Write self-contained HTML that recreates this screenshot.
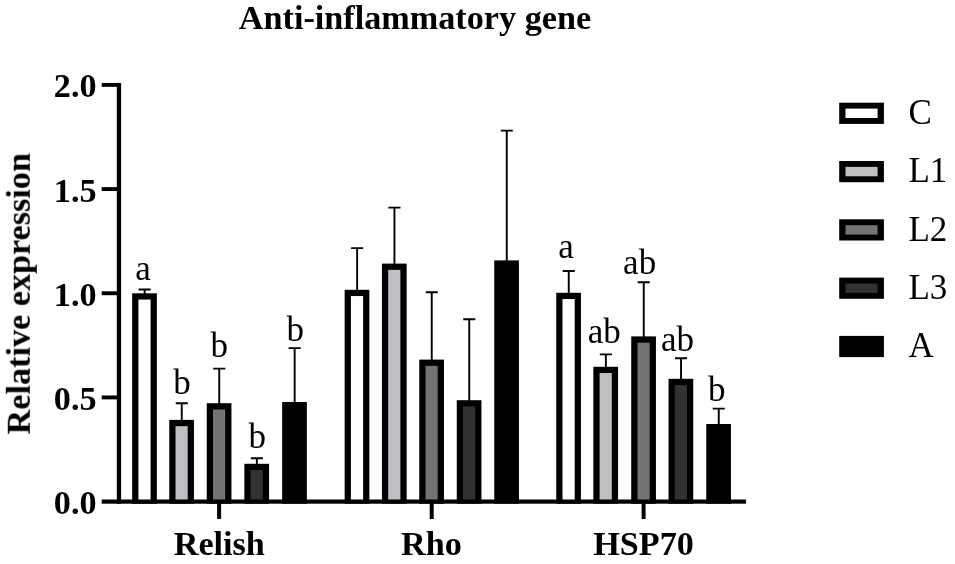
<!DOCTYPE html>
<html lang="en"><head><meta charset="utf-8"><title>Anti-inflammatory gene</title>
<style>
html,body{margin:0;padding:0;background:#fff;}
body{width:955px;height:564px;overflow:hidden;}
svg{display:block;}
text{font-family:"Liberation Serif","Times New Roman",serif;fill:#000;}
.b{font-weight:bold;font-size:34.2px;}
.r{font-size:35px;}
</style></head><body>
<svg width="955" height="564" viewBox="0 0 955 564">
<defs><filter id="soft" x="0" y="0" width="955" height="564" filterUnits="userSpaceOnUse"><feGaussianBlur stdDeviation="0.45"/></filter></defs>
<rect width="955" height="564" fill="#fff"/>
<g filter="url(#soft)">
<path d="M144.65 296.30V289.50M138.60 289.50H150.70" stroke="#000" stroke-width="1.9" fill="none"/>
<path d="M181.75 422.90V403.20M175.70 403.20H187.80" stroke="#000" stroke-width="1.9" fill="none"/>
<path d="M219.25 406.20V368.60M213.20 368.60H225.30" stroke="#000" stroke-width="1.9" fill="none"/>
<path d="M256.85 466.80V458.20M250.80 458.20H262.90" stroke="#000" stroke-width="1.9" fill="none"/>
<path d="M294.65 405.00V348.10M288.60 348.10H300.70" stroke="#000" stroke-width="1.9" fill="none"/>
<path d="M357.15 292.80V248.10M351.10 248.10H363.20" stroke="#000" stroke-width="1.9" fill="none"/>
<path d="M394.45 266.60V207.60M388.40 207.60H400.50" stroke="#000" stroke-width="1.9" fill="none"/>
<path d="M431.75 362.60V292.20M425.70 292.20H437.80" stroke="#000" stroke-width="1.9" fill="none"/>
<path d="M469.25 403.20V319.20M463.20 319.20H475.30" stroke="#000" stroke-width="1.9" fill="none"/>
<path d="M506.75 263.40V130.60M500.70 130.60H512.80" stroke="#000" stroke-width="1.9" fill="none"/>
<path d="M568.75 295.80V271.00M562.70 271.00H574.80" stroke="#000" stroke-width="1.9" fill="none"/>
<path d="M605.85 369.80V354.40M599.80 354.40H611.90" stroke="#000" stroke-width="1.9" fill="none"/>
<path d="M643.75 339.40V282.30M637.70 282.30H649.80" stroke="#000" stroke-width="1.9" fill="none"/>
<path d="M681.05 381.80V358.20M675.00 358.20H687.10" stroke="#000" stroke-width="1.9" fill="none"/>
<path d="M718.75 427.00V408.60M712.70 408.60H724.80" stroke="#000" stroke-width="1.9" fill="none"/>
<rect x="132.15" y="293.30" width="24.7" height="210.40" fill="#000"/>
<rect x="138.40" y="299.55" width="12.20" height="201.15" fill="#ffffff"/>
<rect x="169.25" y="419.90" width="24.7" height="83.80" fill="#000"/>
<rect x="175.50" y="426.15" width="12.20" height="74.55" fill="#bebec3"/>
<rect x="206.75" y="403.20" width="24.7" height="100.50" fill="#000"/>
<rect x="213.00" y="409.45" width="12.20" height="91.25" fill="#737373"/>
<rect x="244.35" y="463.80" width="24.7" height="39.90" fill="#000"/>
<rect x="250.60" y="470.05" width="12.20" height="30.65" fill="#333333"/>
<rect x="282.15" y="402.00" width="24.7" height="101.70" fill="#000"/>
<rect x="344.65" y="289.80" width="24.7" height="213.90" fill="#000"/>
<rect x="350.90" y="296.05" width="12.20" height="204.65" fill="#ffffff"/>
<rect x="381.95" y="263.60" width="24.7" height="240.10" fill="#000"/>
<rect x="388.20" y="269.85" width="12.20" height="230.85" fill="#bebec3"/>
<rect x="419.25" y="359.60" width="24.7" height="144.10" fill="#000"/>
<rect x="425.50" y="365.85" width="12.20" height="134.85" fill="#737373"/>
<rect x="456.75" y="400.20" width="24.7" height="103.50" fill="#000"/>
<rect x="463.00" y="406.45" width="12.20" height="94.25" fill="#333333"/>
<rect x="494.25" y="260.40" width="24.7" height="243.30" fill="#000"/>
<rect x="556.25" y="292.80" width="24.7" height="210.90" fill="#000"/>
<rect x="562.50" y="299.05" width="12.20" height="201.65" fill="#ffffff"/>
<rect x="593.35" y="366.80" width="24.7" height="136.90" fill="#000"/>
<rect x="599.60" y="373.05" width="12.20" height="127.65" fill="#bebec3"/>
<rect x="631.25" y="336.40" width="24.7" height="167.30" fill="#000"/>
<rect x="637.50" y="342.65" width="12.20" height="158.05" fill="#737373"/>
<rect x="668.55" y="378.80" width="24.7" height="124.90" fill="#000"/>
<rect x="674.80" y="385.05" width="12.20" height="115.65" fill="#333333"/>
<rect x="706.25" y="424.00" width="24.7" height="79.70" fill="#000"/>
<rect x="116.8" y="83" width="4.3" height="420.7" fill="#000"/>
<rect x="101.7" y="499.5" width="644.3" height="4.2" fill="#000"/>
<rect x="101.7" y="395.48" width="17" height="3.9" fill="#000"/>
<rect x="101.7" y="291.30" width="17" height="3.9" fill="#000"/>
<rect x="101.7" y="187.13" width="17" height="3.9" fill="#000"/>
<rect x="101.7" y="82.95" width="17" height="3.9" fill="#000"/>
<rect x="217.10" y="501" width="4" height="18" fill="#000"/>
<rect x="429.70" y="501" width="4" height="18" fill="#000"/>
<rect x="641.60" y="501" width="4" height="18" fill="#000"/>
<text class="b" x="96.6" y="514.10" text-anchor="end">0.0</text>
<text class="b" x="96.6" y="409.93" text-anchor="end">0.5</text>
<text class="b" x="96.6" y="305.75" text-anchor="end">1.0</text>
<text class="b" x="96.6" y="201.58" text-anchor="end">1.5</text>
<text class="b" x="96.6" y="97.40" text-anchor="end">2.0</text>
<text class="b" x="219.3" y="554.7" text-anchor="middle">Relish</text>
<text class="b" x="431.5" y="554.7" text-anchor="middle">Rho</text>
<text class="b" x="643.6" y="554.7" text-anchor="middle">HSP70</text>
<text class="b" x="415.0" y="29.2" text-anchor="middle">Anti-inflammatory gene</text>
<text class="b" transform="translate(29.8 293.7) rotate(-90)" text-anchor="middle">Relative expression</text>
<text class="r" x="135.30" y="280.0">a</text>
<text class="r" x="173.20" y="393.6">b</text>
<text class="r" x="210.40" y="356.5">b</text>
<text class="r" x="248.60" y="447.9">b</text>
<text class="r" x="286.40" y="340.8">b</text>
<text class="r" x="558.20" y="258.2">a</text>
<text class="r" x="587.70" y="342.5">ab</text>
<text class="r" x="623.10" y="273.8">ab</text>
<text class="r" x="661.00" y="350.9">ab</text>
<text class="r" x="708.10" y="400.8">b</text>
<rect x="839.2" y="102.70" width="44.7" height="21.2" fill="#000"/>
<rect x="845.5" y="108.60" width="32.1" height="9.4" fill="#ffffff"/>
<text class="r" x="908.4" y="124.10">C</text>
<rect x="839.2" y="161.00" width="44.7" height="21.2" fill="#000"/>
<rect x="845.5" y="166.90" width="32.1" height="9.4" fill="#bebec3"/>
<text class="r" x="908.4" y="182.40">L1</text>
<rect x="839.2" y="219.30" width="44.7" height="21.2" fill="#000"/>
<rect x="845.5" y="225.20" width="32.1" height="9.4" fill="#737373"/>
<text class="r" x="908.4" y="240.70">L2</text>
<rect x="839.2" y="277.60" width="44.7" height="21.2" fill="#000"/>
<rect x="845.5" y="283.50" width="32.1" height="9.4" fill="#333333"/>
<text class="r" x="908.4" y="299.00">L3</text>
<rect x="839.2" y="335.90" width="44.7" height="21.2" fill="#000"/>
<text class="r" x="908.4" y="357.30">A</text>
</g>
</svg>
</body></html>
